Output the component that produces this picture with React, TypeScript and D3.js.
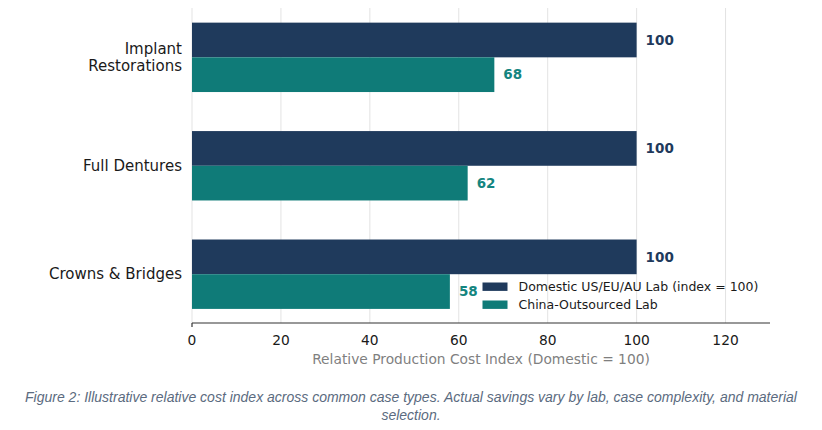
import { FC } from 'react';
import * as d3 from 'd3';

const categories = ['Crowns & Bridges', 'Full Dentures', 'Implant Restorations'];
const categoryLines = [['Crowns & Bridges'], ['Full Dentures'], ['Implant', 'Restorations']];
const domesticValues = [100, 100, 100];
const chinaValues = [58, 62, 68];
const seriesNames = ['Domestic US/EU/AU Lab (index = 100)', 'China-Outsourced Lab'];
const xTicks = [0, 20, 40, 60, 80, 100, 120];
const captionLines = [
  'Figure 2: Illustrative relative cost index across common case types. Actual savings vary by lab, case complexity, and material',
  'selection.',
];

const WIDTH = 822;
const HEIGHT = 430;
const MARGIN = { top: 8, right: 52, bottom: 107, left: 192 };
const NAVY = '#1f3a5c';
const TEAL = '#0f7b78';
const FONT = '"DejaVu Sans", sans-serif';

const App: FC = () => {
  const boundsWidth = WIDTH - MARGIN.left - MARGIN.right;
  const boundsHeight = HEIGHT - MARGIN.top - MARGIN.bottom;

  const xScale = d3.scaleLinear().domain([0, 130]).range([0, boundsWidth]);
  const yScale = d3.scaleLinear().domain([-0.45, 2.455]).range([boundsHeight, 0]);
  const barH = yScale(0) - yScale(0.32);

  return (
    <svg
      width={WIDTH}
      height={HEIGHT}
      style={{ position: 'absolute', left: 0, top: 0, background: '#fff' }}
    >
      <g transform={`translate(${MARGIN.left},${MARGIN.top})`}>
        {/* grid */}
        {xTicks.map((t) => (
          <line
            key={'g' + t}
            x1={xScale(t)}
            x2={xScale(t)}
            y1={0}
            y2={boundsHeight}
            stroke="#e3e3e3"
            strokeWidth={1}
          />
        ))}

        {/* bars */}
        {categories.map((c, i) => (
          <g key={c}>
            <rect
              x={xScale(0)}
              y={yScale(i + 0.32)}
              width={xScale(domesticValues[i]) - xScale(0)}
              height={barH}
              fill={NAVY}
            />
            <rect
              x={xScale(0)}
              y={yScale(i)}
              width={xScale(chinaValues[i]) - xScale(0)}
              height={barH}
              fill={TEAL}
            />
            <text
              x={xScale(domesticValues[i]) + 9}
              y={yScale(i + 0.16)}
              dy="0.35em"
              fontFamily={FONT}
              fontWeight="bold"
              fontSize={13.5}
              fill={NAVY}
            >
              {domesticValues[i]}
            </text>
            <text
              x={xScale(chinaValues[i]) + 9}
              y={yScale(i - 0.16)}
              dy="0.35em"
              fontFamily={FONT}
              fontWeight="bold"
              fontSize={13.5}
              fill="#148580"
            >
              {chinaValues[i]}
            </text>
          </g>
        ))}

        {/* category labels */}
        {categoryLines.map((lines, i) => (
          <text
            key={'c' + i}
            x={-10}
            y={yScale(i)}
            textAnchor="end"
            fontFamily={FONT}
            fontSize={15}
            fill="#1a1a1a"
          >
            {lines.map((l, j) => (
              <tspan
                key={l}
                x={-10}
                dy={j === 0 ? `${0.35 - (lines.length - 1) * 0.58}em` : '1.16em'}
              >
                {l}
              </tspan>
            ))}
          </text>
        ))}

        {/* x axis */}
        <line x1={0} x2={boundsWidth} y1={boundsHeight} y2={boundsHeight} stroke="#333" strokeWidth={1.2} />
        <line x1={0} x2={0} y1={boundsHeight} y2={boundsHeight + 4} stroke="#333" strokeWidth={1.2} />
        {xTicks.map((t) => (
          <text
            key={'t' + t}
            x={xScale(t)}
            y={boundsHeight + 17}
            dy="0.35em"
            textAnchor="middle"
            fontFamily={FONT}
            fontSize={13.8}
            fill="#1a1a1a"
          >
            {t}
          </text>
        ))}
        <text
          x={boundsWidth / 2}
          y={boundsHeight + 36}
          dy="0.35em"
          textAnchor="middle"
          fontFamily={FONT}
          fontSize={13.8}
          fill="#7f7f7f"
        >
          Relative Production Cost Index (Domestic = 100)
        </text>

        {/* legend */}
        {seriesNames.map((s, i) => (
          <g key={s} transform={`translate(${290.5},${286.7 - MARGIN.top + i * 18})`}>
            <rect x={0} y={-4.2} width={25} height={8.4} fill={i === 0 ? NAVY : TEAL} />
            <text x={36} y={0} dy="0.35em" fontFamily={FONT} fontSize={12.5} fill="#1a1a1a">
              {s}
            </text>
          </g>
        ))}
      </g>

      {/* caption */}
      {captionLines.map((l, i) => (
        <text
          key={'cap' + i}
          x={411}
          y={402 + i * 18}
          textAnchor="middle"
          fontFamily='"Liberation Sans", Arial, sans-serif'
          fontStyle="italic"
          fontSize={14}
          fill="#5b6b80"
        >
          {l}
        </text>
      ))}
    </svg>
  );
};

export default App;
